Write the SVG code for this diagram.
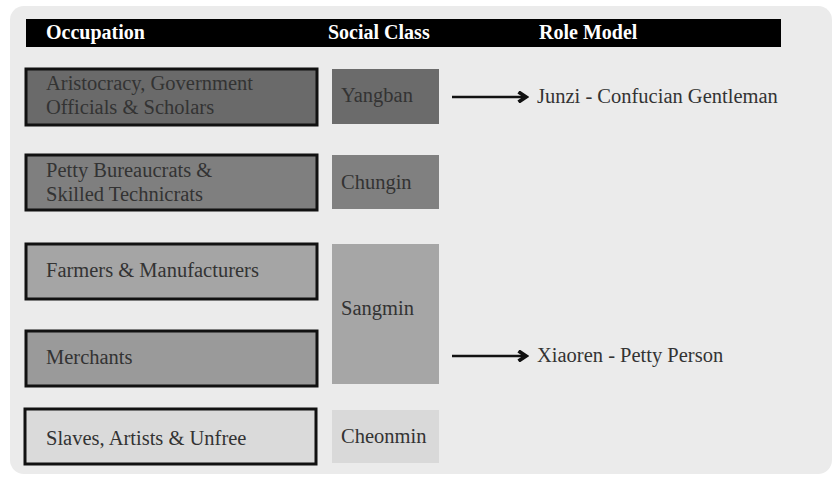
<svg xmlns="http://www.w3.org/2000/svg" width="832" height="479" viewBox="0 0 832 479">
<defs>
<style>
text{font-family:"Liberation Serif","Times New Roman",serif;font-size:20.5px;fill:#333}
.hd{fill:#fff;font-weight:bold;font-size:20px}
.occ{stroke:#111;stroke-width:3}
.arr{stroke:#111;stroke-width:2.5;fill:none}
</style>
<marker id="ah" viewBox="0 0 10 10" refX="8" refY="5" markerWidth="5" markerHeight="5" orient="auto"><path d="M2,1 L8,5 L2,9" fill="none" stroke="#111" stroke-width="3"/></marker>
</defs>
<rect width="832" height="479" fill="#fff"/>
<rect x="10" y="6" width="822" height="468" rx="14" fill="#ebebeb"/>
<g id="header">
<rect x="26" y="19" width="755" height="28" fill="#000"/>
<text class="hd" x="46" y="39">Occupation</text>
<text class="hd" x="328" y="39">Social Class</text>
<text class="hd" x="539" y="39">Role Model</text>
</g>
<g id="occ1"><rect class="occ" x="26" y="69" width="291" height="56" fill="#6a6a6a"/><text x="46" y="90">Aristocracy, Government</text><text x="46" y="114">Officials &amp; Scholars</text></g>
<g id="occ2"><rect class="occ" x="26" y="155" width="291" height="55" fill="#7f7f7f"/><text x="46" y="177">Petty Bureaucrats &amp;</text><text x="46" y="201">Skilled Technicrats</text></g>
<g id="occ3"><rect class="occ" x="26" y="244" width="291" height="55" fill="#a5a5a5"/><text x="46" y="277">Farmers &amp; Manufacturers</text></g>
<g id="occ4"><rect class="occ" x="26" y="331" width="291" height="55" fill="#9a9a9a"/><text x="46" y="364">Merchants</text></g>
<g id="occ5"><rect class="occ" x="25" y="409" width="291" height="55" fill="#dadada"/><text x="46" y="445">Slaves, Artists &amp; Unfree</text></g>
<g id="yangban"><rect x="332" y="69" width="107" height="55" fill="#6b6b6b"/><text x="341" y="102">Yangban</text></g>
<g id="chungin"><rect x="332" y="155" width="107" height="54" fill="#808080"/><text x="341" y="189">Chungin</text></g>
<g id="sangmin"><rect x="332" y="244" width="107" height="140" fill="#a6a6a6"/><text x="341" y="315">Sangmin</text></g>
<g id="cheonmin"><rect x="332" y="410" width="107" height="53" fill="#d9d9d9"/><text x="341" y="443">Cheonmin</text></g>
<g id="junzi"><text x="537" y="103">Junzi - Confucian Gentleman</text></g>
<g id="xiaoren"><text x="537" y="362">Xiaoren - Petty Person</text></g>
<g id="connectors">
<line class="arr" x1="452" y1="97" x2="526" y2="97" marker-end="url(#ah)"/>
<line class="arr" x1="452" y1="356" x2="526" y2="356" marker-end="url(#ah)"/>
</g>
</svg>
